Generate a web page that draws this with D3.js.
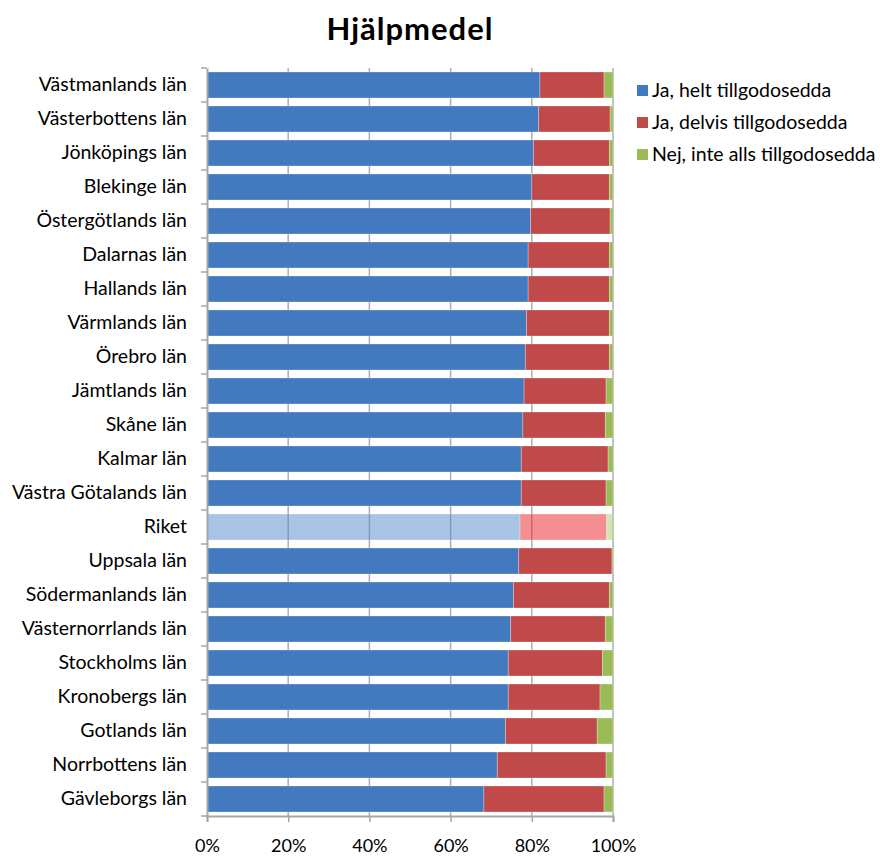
<!DOCTYPE html>
<html>
<head>
<meta charset="utf-8">
<script src="https://cdn.jsdelivr.net/npm/d3@7"></script>
<style>
  html, body { margin: 0; padding: 0; background: #fff; }
  svg { display: block; }
</style>
</head>
<body>
<svg id="chart" width="880" height="856"></svg>
<script>
// Counties, top to bottom
const categories = [
  "Västmanlands län", "Västerbottens län", "Jönköpings län", "Blekinge län",
  "Östergötlands län", "Dalarnas län", "Hallands län", "Värmlands län",
  "Örebro län", "Jämtlands län", "Skåne län", "Kalmar län",
  "Västra Götalands län", "Riket", "Uppsala län", "Södermanlands län",
  "Västernorrlands län", "Stockholms län", "Kronobergs län", "Gotlands län",
  "Norrbottens län", "Gävleborgs län"
];

// Share (%) per answer
const helt = [82.0, 81.7, 80.4, 80.0, 79.7, 79.1, 79.1, 78.7, 78.4, 78.1, 77.8, 77.4,
              77.4, 77.1, 76.8, 75.5, 74.8, 74.2, 74.2, 73.5, 71.5, 68.2];
const delvis = [15.8, 17.6, 18.7, 19.1, 19.6, 20.0, 20.0, 20.4, 20.7, 20.2, 20.3, 21.4,
                20.9, 21.3, 22.95, 23.6, 23.3, 23.2, 22.6, 22.6, 26.8, 29.6];
const inteAlls = [2.2, 0.7, 0.9, 0.9, 0.7, 0.9, 0.9, 0.9, 0.9, 1.7, 1.9, 1.2,
                  1.7, 1.6, 0.25, 0.9, 1.9, 2.6, 3.2, 3.9, 1.7, 2.2];

const seriesNames = ["Ja, helt tillgodosedda", "Ja, delvis tillgodosedda", "Nej, inte alls tillgodosedda"];
const seriesColors = ["#4379BE", "#C0494A", "#9BBB59"];
const highlightColors = ["#4F89C9", "#EB1D23", "#A7CB67"];
const highlight = "Riket";
const xTicks = [0, 20, 40, 60, 80, 100];

const font = "Lato, 'Open Sans', sans-serif";
const svg = d3.select("#chart");
const plotTop = 68, plotBottom = 816, plotLeft = 207, plotRight = 613;

const x = d3.scaleLinear().domain([0, 100]).range([plotLeft, plotRight]);
const y = d3.scaleBand().domain(categories).range([plotTop, plotBottom]).paddingInner(0.235).paddingOuter(0.1175);

// Title
svg.append("text")
  .attr("x", 410).attr("y", 40)
  .attr("text-anchor", "middle")
  .attr("font-family", font).attr("font-weight", "bold").attr("font-size", 31)
  .attr("letter-spacing", 1)
  .attr("fill", "#000")
  .text("Hjälpmedel");

// Vertical gridlines
svg.append("g").selectAll("line").data(xTicks.slice(1)).join("line")
  .attr("x1", d => x(d)).attr("x2", d => x(d))
  .attr("y1", plotTop).attr("y2", plotBottom)
  .attr("stroke", "#ADADAD").attr("stroke-width", 1.5);

// Stacked bars
const rows = categories.map((c, i) => ({ cat: c, vals: [helt[i], delvis[i], inteAlls[i]] }));
const layers = d3.stack().keys([0, 1, 2]).value((d, k) => d.vals[k])(rows);

const gBars = svg.append("g");
layers.forEach((layer, k) => {
  gBars.append("g").selectAll("rect").data(layer).join("rect")
    .attr("x", d => x(d[0]))
    .attr("y", d => y(d.data.cat))
    .attr("width", d => Math.max(0, x(d[1]) - x(d[0])))
    .attr("height", y.bandwidth())
    .attr("fill", d => d.data.cat === highlight ? highlightColors[k] : seriesColors[k])
    .attr("fill-opacity", d => d.data.cat === highlight ? 0.5 : 1)
    .attr("stroke", "#fff").attr("stroke-opacity", 0.35).attr("stroke-width", 0.8);
});

// Y axis
const yAxis = svg.append("g").attr("transform", `translate(${plotLeft},0)`)
  .call(d3.axisLeft(y).tickSize(0).tickPadding(20));
yAxis.select(".domain").attr("stroke", "#A6A6A6").attr("stroke-width", 2);
yAxis.selectAll("text").attr("font-family", font).attr("font-size", 19.5).attr("fill", "#000");
// Category separators as ticks
const bounds = d3.range(categories.length + 1).map(i => plotTop + i * y.step());
yAxis.append("g").selectAll("line").data(bounds).join("line")
  .attr("x1", -6).attr("x2", 0).attr("y1", d => d).attr("y2", d => d)
  .attr("stroke", "#A6A6A6").attr("stroke-width", 1.5);

// X axis
const xAxis = svg.append("g").attr("transform", `translate(0,${plotBottom})`)
  .call(d3.axisBottom(x).tickValues(xTicks).tickFormat(d => d + "%").tickSize(6).tickPadding(17));
xAxis.select(".domain").attr("stroke", "#A6A6A6").attr("stroke-width", 2);
xAxis.selectAll(".tick line").attr("stroke", "#A6A6A6").attr("stroke-width", 1.5);
xAxis.selectAll("text").attr("font-family", font).attr("font-size", 18).attr("fill", "#000");

// Legend
const legend = svg.append("g").attr("transform", "translate(637,85)");
seriesNames.forEach((name, i) => {
  const g = legend.append("g").attr("transform", `translate(0,${i * 32})`);
  g.append("rect").attr("width", 11).attr("height", 11).attr("y", 0).attr("fill", seriesColors[i]);
  g.append("text").attr("x", 15).attr("y", 12)
    .attr("font-family", font).attr("font-size", 19.5).attr("fill", "#000")
    .text(name);
});
</script>
</body>
</html>
